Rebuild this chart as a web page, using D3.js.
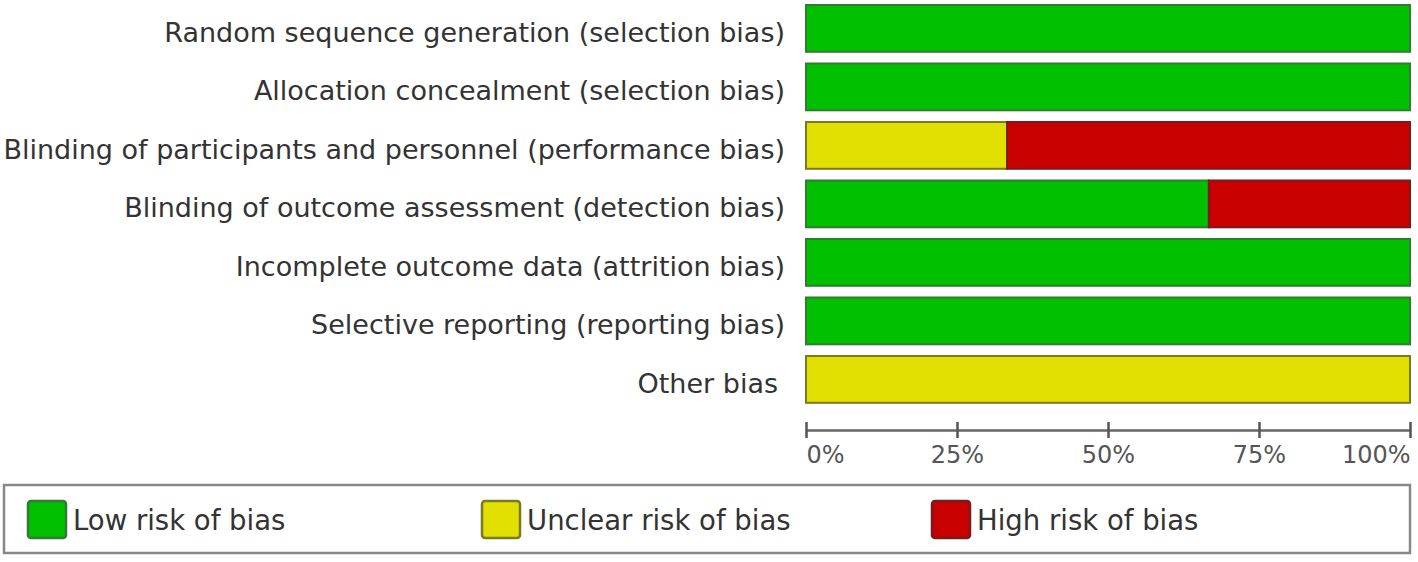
<!DOCTYPE html>
<html><head><meta charset="utf-8">
<script src="https://cdn.jsdelivr.net/npm/d3@7"></script>
<style>body{margin:0;background:#fff}svg{display:block}</style>
</head><body>
<script>
const categories = [
  "Random sequence generation (selection bias)",
  "Allocation concealment (selection bias)",
  "Blinding of participants and personnel (performance bias)",
  "Blinding of outcome assessment (detection bias)",
  "Incomplete outcome data (attrition bias)",
  "Selective reporting (reporting bias)",
  "Other bias"
];
const lowRisk     = [100, 100, 0,     66.7, 100, 100, 0];
const unclearRisk = [0,   0,   33.3,  0,    0,   0,   100];
const highRisk    = [0,   0,   66.7,  33.3, 0,   0,   0];
const tickValues  = [0, 25, 50, 75, 100];
const tickLabels  = ["0%", "25%", "50%", "75%", "100%"];
const seriesNames = ["Low risk of bias", "Unclear risk of bias", "High risk of bias"];

const W = 1418, H = 562;
const fill = ["#00c000", "#e2e000", "#c80000"];
const stroke = ["#2f7d2f", "#7a7a20", "#7a1a1a"];

const svg = d3.select("body").append("svg").attr("width", W).attr("height", H);

const rows = categories.map((c, i) => ({cat: c, low: lowRisk[i], unclear: unclearRisk[i], high: highRisk[i]}));
const keys = ["low", "unclear", "high"];
const stacked = d3.stack().keys(keys)(rows);

const x = d3.scaleLinear().domain([0, 100]).range([806, 1410]);
const y = d3.scaleBand().domain(categories).range([-0.85, 408.65]).paddingInner(0.2).paddingOuter(0.1);

const font = "'DejaVu Sans', Verdana, sans-serif";

// bars
stacked.forEach((layer, k) => {
  svg.append("g").selectAll("rect").data(layer.filter(d => d[1] - d[0] > 0)).join("rect")
    .attr("x", d => x(d[0]))
    .attr("y", d => y(d.data.cat))
    .attr("width", d => x(d[1]) - x(d[0]))
    .attr("height", y.bandwidth())
    .attr("fill", fill[k])
    .attr("stroke", stroke[k])
    .attr("stroke-width", 2);
});

// category labels
svg.append("g").selectAll("text").data(categories).join("text")
  .attr("x", (d, i) => i === categories.length - 1 ? 778 : 785)
  .attr("y", d => y(d) + y.bandwidth() / 2 + 4)
  .attr("text-anchor", "end")
  .attr("dominant-baseline", "central")
  .attr("fill", "#333")
  .style("font-family", font)
  .style("font-size", "27px")
  .text(d => d);

// axis
const axis = d3.axisBottom(x).tickValues(tickValues).tickSize(8).tickSizeOuter(0)
  .tickFormat((d, i) => tickLabels[i]);
const ag = svg.append("g").attr("transform", "translate(0,430)").call(axis);
ag.select(".domain").attr("stroke", "#666").attr("stroke-width", 2.5);
ag.selectAll(".tick line").attr("y1", -8).attr("y2", 8).attr("stroke", "#555").attr("stroke-width", 2.5);
ag.selectAll(".tick text")
  .attr("y", 16)
  .attr("fill", "#555")
  .style("font-family", font)
  .style("font-size", "24px")
  .attr("text-anchor", (d, i) => i === 0 ? "start" : (i === tickValues.length - 1 ? "end" : "middle"));

// legend
svg.append("rect").attr("x", 4).attr("y", 485).attr("width", 1406).attr("height", 68)
  .attr("fill", "#fff").attr("stroke", "#888").attr("stroke-width", 2.5);
const legX = [28, 482, 932];
const lg = svg.append("g").selectAll("g").data(seriesNames).join("g")
  .attr("transform", (d, i) => `translate(${legX[i]},501)`);
lg.append("rect").attr("width", 38).attr("height", 37).attr("rx", 3)
  .attr("fill", (d, i) => fill[i]).attr("stroke", (d, i) => stroke[i]).attr("stroke-width", 2.5);
lg.append("text").attr("x", 45).attr("y", 19).attr("dominant-baseline", "central")
  .attr("fill", "#333").style("font-family", font).style("font-size", "27.5px")
  .text(d => d);
</script>
</body></html>
